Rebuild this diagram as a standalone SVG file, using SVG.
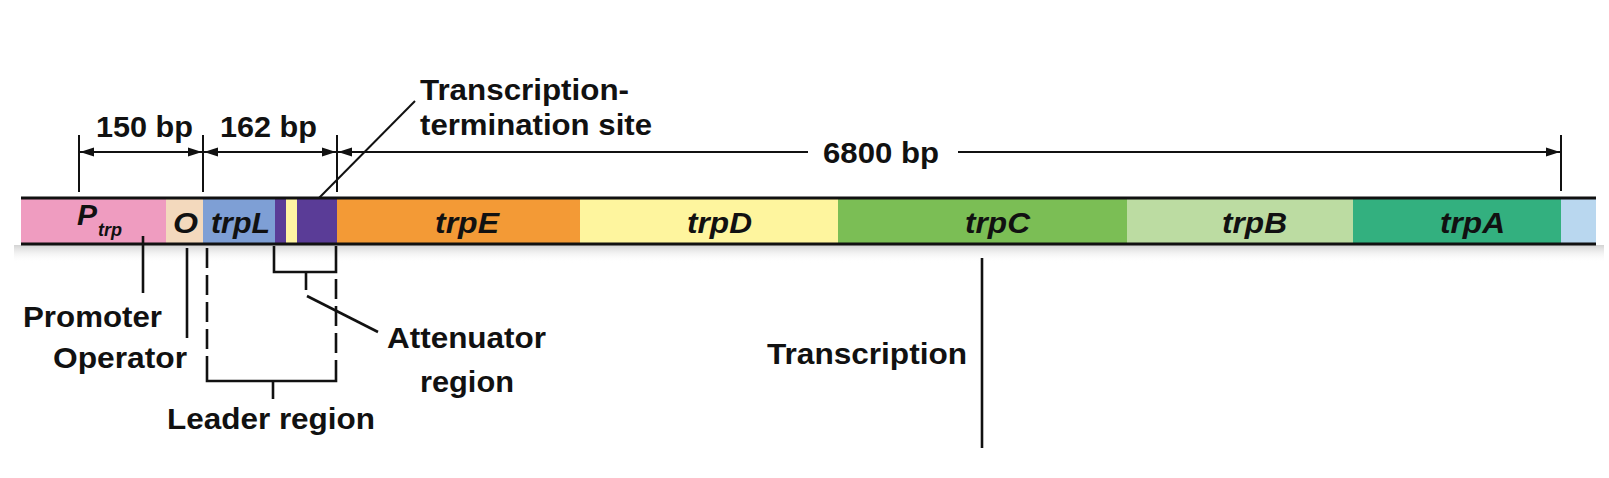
<svg xmlns="http://www.w3.org/2000/svg" width="1609" height="478" viewBox="0 0 1609 478">
  <defs>
    <marker id="arr" viewBox="0 0 14 10" refX="14" refY="5" markerWidth="14" markerHeight="10" markerUnits="userSpaceOnUse" orient="auto-start-reverse">
      <path d="M0,0.5 L14,5 L0,9.5 z" fill="#111"/>
    </marker>
    <linearGradient id="shadow" x1="0" y1="0" x2="0" y2="1">
      <stop offset="0" stop-color="#c8c8c8" stop-opacity="0.8"/>
      <stop offset="1" stop-color="#ffffff" stop-opacity="0"/>
    </linearGradient>
    <style>
      .lbl { font-family: "Liberation Sans", Arial, Helvetica, sans-serif; font-weight: bold; font-size: 30px; fill: #111; }
      .gene { font-family: "Liberation Sans", Arial, Helvetica, sans-serif; font-weight: bold; font-style: italic; font-size: 30px; fill: #111; }
      .sub { font-size: 18px; }
      .ln { stroke: #111; stroke-width: 2; fill: none; }
      .ln3 { stroke: #111; stroke-width: 2.6; fill: none; }
      .dash { stroke: #111; stroke-width: 2.6; fill: none; stroke-dasharray: 20 7; }
      .edge { stroke: #111; stroke-width: 3; }
    </style>
  </defs>
  <rect x="0" y="0" width="1609" height="478" fill="#ffffff"/>

  <!-- shadow under bar -->
  <rect x="14" y="245" width="1590" height="18" fill="url(#shadow)"/>

  <!-- operon segments -->
  <g id="node-ptrp">
    <rect x="21" y="198" width="145" height="46" fill="#EF9CC0"/>
    <text class="gene" x="77" y="225">P</text>
    <text class="gene sub" x="98" y="236" textLength="24" lengthAdjust="spacingAndGlyphs">trp</text>
  </g>
  <g id="node-operator">
    <rect x="166" y="198" width="37" height="46" fill="#F3D9BD"/>
    <text class="gene" x="173" y="233" textLength="25" lengthAdjust="spacingAndGlyphs">O</text>
  </g>
  <g id="node-trpL">
    <rect x="203" y="198" width="72" height="46" fill="#7E9FD5"/>
    <text class="gene" x="211" y="233" textLength="59" lengthAdjust="spacingAndGlyphs">trpL</text>
  </g>
  <g id="node-attenuator">
    <rect x="275" y="198" width="11" height="46" fill="#5A3C97"/>
    <rect x="286" y="198" width="11" height="46" fill="#FFF4A3"/>
    <rect x="297" y="198" width="40" height="46" fill="#5A3C97"/>
  </g>
  <g id="node-trpE">
    <rect x="337" y="198" width="243" height="46" fill="#F39A36"/>
    <text class="gene" x="435" y="233" textLength="64" lengthAdjust="spacingAndGlyphs">trpE</text>
  </g>
  <g id="node-trpD">
    <rect x="580" y="198" width="258" height="46" fill="#FEF59E"/>
    <text class="gene" x="687" y="233" textLength="65" lengthAdjust="spacingAndGlyphs">trpD</text>
  </g>
  <g id="node-trpC">
    <rect x="838" y="198" width="289" height="46" fill="#7BBE55"/>
    <text class="gene" x="965" y="233" textLength="65" lengthAdjust="spacingAndGlyphs">trpC</text>
  </g>
  <g id="node-trpB">
    <rect x="1127" y="198" width="226" height="46" fill="#BCDCA2"/>
    <text class="gene" x="1222" y="233" textLength="65" lengthAdjust="spacingAndGlyphs">trpB</text>
  </g>
  <g id="node-trpA">
    <rect x="1353" y="198" width="208" height="46" fill="#33B07F"/>
    <text class="gene" x="1440" y="233" textLength="65" lengthAdjust="spacingAndGlyphs">trpA</text>
  </g>
  <g id="node-end">
    <rect x="1561" y="198" width="35" height="46" fill="#B9D7EF"/>
  </g>
  <g id="bar-edges">
    <line class="edge" x1="21" y1="198" x2="1596" y2="198"/>
    <line class="edge" x1="21" y1="244" x2="1596" y2="244"/>
  </g>

  <!-- labels -->
  <g id="label-150bp"><text class="lbl" x="96" y="137" textLength="97" lengthAdjust="spacingAndGlyphs">150 bp</text></g>
  <g id="label-162bp"><text class="lbl" x="220" y="137" textLength="97" lengthAdjust="spacingAndGlyphs">162 bp</text></g>
  <g id="label-6800bp"><text class="lbl" x="823" y="163" textLength="116" lengthAdjust="spacingAndGlyphs">6800 bp</text></g>
  <g id="label-termination">
    <text class="lbl" x="420" y="100" textLength="209" lengthAdjust="spacingAndGlyphs">Transcription-</text>
    <text class="lbl" x="420" y="135" textLength="232" lengthAdjust="spacingAndGlyphs">termination site</text>
  </g>
  <g id="label-promoter"><text class="lbl" x="23" y="327" textLength="139" lengthAdjust="spacingAndGlyphs">Promoter</text></g>
  <g id="label-operator"><text class="lbl" x="53" y="368" textLength="134" lengthAdjust="spacingAndGlyphs">Operator</text></g>
  <g id="label-attenuator">
    <text class="lbl" x="387" y="348" textLength="159" lengthAdjust="spacingAndGlyphs">Attenuator</text>
    <text class="lbl" x="420" y="392" textLength="94" lengthAdjust="spacingAndGlyphs">region</text>
  </g>
  <g id="label-leader"><text class="lbl" x="167" y="429" textLength="208" lengthAdjust="spacingAndGlyphs">Leader region</text></g>
  <g id="label-transcription"><text class="lbl" x="767" y="364" textLength="200" lengthAdjust="spacingAndGlyphs">Transcription</text></g>

  <!-- connectors -->
  <g id="connectors">
    <!-- dimension ticks -->
    <line class="ln" x1="79" y1="135" x2="79" y2="192"/>
    <line class="ln" x1="203" y1="135" x2="203" y2="192"/>
    <line class="ln" x1="337" y1="135" x2="337" y2="192"/>
    <line class="ln" x1="1561" y1="135" x2="1561" y2="191"/>
    <!-- dimension arrows -->
    <line class="ln" x1="80" y1="152" x2="202" y2="152" marker-start="url(#arr)" marker-end="url(#arr)"/>
    <line class="ln" x1="204" y1="152" x2="336" y2="152" marker-start="url(#arr)" marker-end="url(#arr)"/>
    <line class="ln" x1="338" y1="152" x2="808" y2="152" marker-start="url(#arr)"/>
    <line class="ln" x1="958" y1="152" x2="1560" y2="152" marker-end="url(#arr)"/>
    <!-- termination site pointer -->
    <line class="ln" x1="319" y1="198" x2="415" y2="101"/>
    <!-- promoter / operator pointers -->
    <line class="ln3" x1="143" y1="236" x2="143" y2="293"/>
    <line class="ln3" x1="187" y1="248" x2="187" y2="338"/>
    <!-- leader region bracket -->
    <path class="dash" d="M207,248 V372"/>
    <path class="dash" d="M336,279 V372"/>
    <path class="ln3" d="M207,372 V381 H336 V372"/>
    <line class="ln3" x1="273" y1="381" x2="273" y2="399"/>
    <!-- attenuator bracket -->
    <path class="ln3" d="M274,246 V272 H336 V246"/>
    <line class="ln3" x1="306" y1="272" x2="306" y2="290"/>
    <line class="ln3" x1="307" y1="296" x2="378" y2="332"/>
    <!-- transcription line -->
    <line class="ln3" x1="982" y1="258" x2="982" y2="448"/>
  </g>
</svg>
